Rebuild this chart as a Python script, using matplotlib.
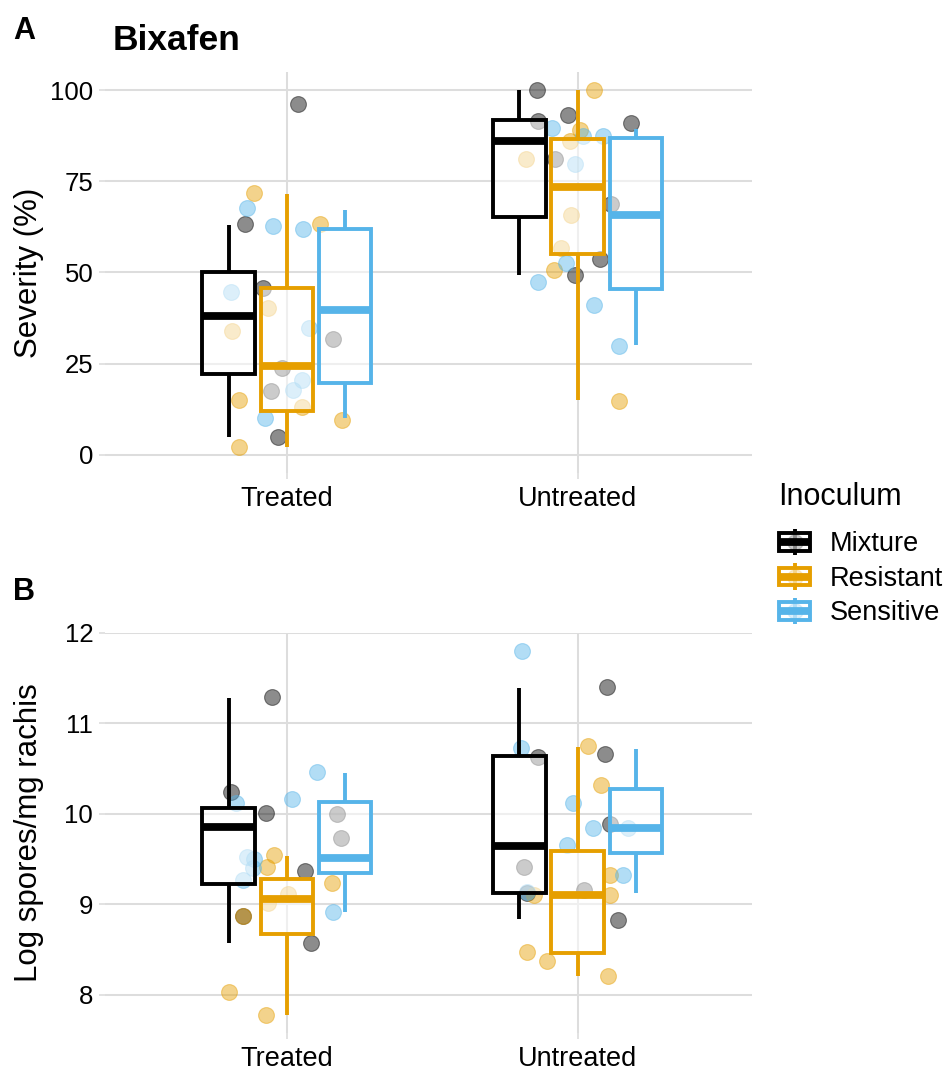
import matplotlib
matplotlib.use('Agg')
import matplotlib.pyplot as plt
from matplotlib.patches import Rectangle
from matplotlib.lines import Line2D
from matplotlib.legend_handler import HandlerBase

plt.rcParams['font.family'] = ['Liberation Sans', 'DejaVu Sans']

treatments = ['Treated', 'Untreated']
inocula = ['Mixture', 'Resistant', 'Sensitive']
colors = ['#000000', '#E69F00', '#56B4E9']

# box stats: [whislo, q1, median, q3, whishi], order Mixture/Resistant/Sensitive
sev_box_treated = [[4.8, 22.2, 38.2, 50.1, 62.9], [2.0, 11.9, 24.4, 45.7, 71.6], [10.2, 19.7, 39.6, 62.0, 67.2]]
sev_box_untreated = [[49.2, 65.2, 86.0, 91.8, 100], [14.9, 55.1, 73.5, 86.6, 100], [30.1, 45.6, 65.9, 86.9, 89.4]]
spo_box_treated = [[8.57, 9.23, 9.86, 10.07, 11.28], [7.78, 8.67, 9.06, 9.28, 9.54], [8.92, 9.35, 9.51, 10.13, 10.45]]
spo_box_untreated = [[8.84, 9.13, 9.65, 10.64, 11.39], [8.21, 8.46, 9.10, 9.59, 10.74], [9.13, 9.57, 9.84, 10.28, 10.72]]

# raw observations
sev_treated_mix = [96.2, 63.3, 45.7, 23.8, 17.6, 5.0, 31.7]
sev_treated_res = [71.8, 63.3, 40.3, 33.9, 15.1, 2.0, 13.0, 9.6]
sev_treated_sen = [67.7, 62.7, 62.0, 44.6, 34.8, 20.6, 17.7, 10.1]
sev_untreated_mix = [100, 93.1, 91.5, 90.9, 81.2, 68.8, 53.7, 49.2]
sev_untreated_res = [100, 89.2, 86.0, 81.2, 65.9, 56.7, 50.6, 14.8]
sev_untreated_sen = [89.7, 87.4, 87.4, 79.8, 52.6, 47.3, 41.0, 29.9]

spo_treated_mix = [11.29, 10.24, 10.01, 9.37, 8.87, 8.57, 10.0, 9.74]
spo_treated_res = [9.55, 9.41, 9.12, 9.02, 9.24, 8.87, 8.03, 7.78]
spo_treated_sen = [10.46, 10.17, 10.12, 9.52, 9.50, 9.40, 9.27, 8.92]
spo_untreated_mix = [11.40, 10.66, 10.63, 9.89, 9.41, 9.16, 8.83, 9.13]
spo_untreated_res = [10.75, 10.32, 9.33, 9.10, 9.10, 8.47, 8.38, 8.21]
spo_untreated_sen = [11.80, 10.73, 10.12, 9.85, 9.84, 9.66, 9.33, 9.14]

# horizontal jitter of each observation (category units), as seen in the picture
jit_sev_treated_mix = [0.039, -0.142, -0.081, -0.018, -0.053, -0.030, 0.159]
jit_sev_treated_res = [-0.112, 0.113, -0.066, -0.187, -0.163, -0.164, 0.053, 0.191]
jit_sev_treated_sen = [-0.138, -0.047, 0.057, -0.190, 0.077, 0.053, 0.020, -0.076]
jit_sev_untreated_mix = [-0.140, -0.032, -0.136, 0.185, -0.079, 0.116, 0.076, -0.010]
jit_sev_untreated_res = [0.058, 0.007, -0.027, -0.176, -0.022, -0.056, -0.082, 0.144]
jit_sev_untreated_sen = [-0.087, 0.018, 0.087, -0.007, -0.039, -0.136, 0.058, 0.142]

jit_spo_treated_mix = [-0.051, -0.190, -0.072, 0.062, -0.150, 0.082, 0.173, 0.188]
jit_spo_treated_res = [-0.045, -0.068, 0.004, -0.064, 0.157, -0.150, -0.198, -0.073]
jit_spo_treated_sen = [0.104, 0.018, -0.173, -0.138, -0.113, -0.116, -0.150, 0.159]
jit_spo_untreated_mix = [0.101, 0.093, -0.136, 0.113, -0.185, 0.022, 0.138, -0.173]
jit_spo_untreated_res = [0.037, 0.081, 0.113, 0.110, -0.148, -0.174, -0.105, 0.104]
jit_spo_untreated_sen = [-0.190, -0.196, -0.014, 0.052, 0.173, -0.035, 0.156, -0.173]

GRID = '#DDDDDD'
BOX_FILL = (1, 1, 1, 0.55)
PT_ALPHA = 0.45


def draw_panel(ax, boxes, points, jitters, ylim, yticks, ylabel):
    for t in range(2):
        xc = t + 1
        for i in range(3):
            c = colors[i]
            xs = [xc + j for j in jitters[t][i]]
            ax.scatter(xs, points[t][i], s=130, color=c, alpha=PT_ALPHA,
                       edgecolors=c, linewidths=0.8, zorder=2)
        for i in range(3):
            c = colors[i]
            lo, q1, med, q3, hi = boxes[t][i]
            st = dict(whislo=lo, q1=q1, med=med, q3=q3, whishi=hi, fliers=[])
            ax.bxp([st], positions=[xc + (i - 1) * 0.2], widths=0.18,
                   patch_artist=True, showcaps=False, showfliers=False,
                   manage_ticks=False, zorder=3,
                   boxprops=dict(facecolor=BOX_FILL, edgecolor=c, linewidth=2.8),
                   whiskerprops=dict(color=c, linewidth=2.8, solid_capstyle='butt'),
                   medianprops=dict(color=c, linewidth=5.6, solid_capstyle='butt'))
    ax.set_xlim(1 - 0.625, 2 + 0.6)
    ax.set_ylim(*ylim)
    ax.set_yticks(yticks)
    ax.set_xticks([1, 2])
    ax.set_xticklabels(treatments)
    for s in ax.spines.values():
        s.set_visible(False)
    ax.set_axisbelow(True)
    ax.grid(True, color=GRID, linewidth=1.45)
    ax.tick_params(axis='x', length=4, width=1.2, color=GRID, pad=5, labelsize=19.5)
    ax.tick_params(axis='y', length=4, width=1.2, color=GRID, pad=4.5, labelsize=18.5)
    ax.set_ylabel(ylabel, fontsize=22.5)
    ax.yaxis.set_label_coords(-0.094, 0.5)


class BoxKey(HandlerBase):
    def create_artists(self, legend, orig_handle, xdescent, ydescent,
                       width, height, fontsize, trans):
        c = orig_handle.get_color()
        x0, y0 = -xdescent, -ydescent
        cx, cy = x0 + width / 2, y0 + height / 2
        pt = Line2D([cx], [cy], marker='o', markersize=11, color=c,
                    alpha=PT_ALPHA, linestyle='none', transform=trans)
        wh = Line2D([cx, cx], [y0, y0 + height], color=c, linewidth=2.8,
                    solid_capstyle='butt', transform=trans)
        box = Rectangle((x0, y0 + 0.17 * height), width, 0.66 * height,
                        facecolor=BOX_FILL, edgecolor=c, linewidth=2.8, transform=trans)
        md = Line2D([x0, x0 + width], [cy, cy], color=c, linewidth=5.6,
                    solid_capstyle='butt', transform=trans)
        return [wh, pt, box, md]


fig = plt.figure(figsize=(9.48, 10.70), dpi=100)
W, H = 948, 1070
axA = fig.add_axes([105 / W, 1 - 473 / H, 647 / W, 401 / H])
axB = fig.add_axes([105 / W, 1 - 1033 / H, 647 / W, 400 / H])

draw_panel(axA, [sev_box_treated, sev_box_untreated],
           [[sev_treated_mix, sev_treated_res, sev_treated_sen],
            [sev_untreated_mix, sev_untreated_res, sev_untreated_sen]],
           [[jit_sev_treated_mix, jit_sev_treated_res, jit_sev_treated_sen],
            [jit_sev_untreated_mix, jit_sev_untreated_res, jit_sev_untreated_sen]],
           (-5, 105), [0, 25, 50, 75, 100], 'Severity (%)')
draw_panel(axB, [spo_box_treated, spo_box_untreated],
           [[spo_treated_mix, spo_treated_res, spo_treated_sen],
            [spo_untreated_mix, spo_untreated_res, spo_untreated_sen]],
           [[jit_spo_treated_mix, jit_spo_treated_res, jit_spo_treated_sen],
            [jit_spo_untreated_mix, jit_spo_untreated_res, jit_spo_untreated_sen]],
           (7.58, 12.0), [8, 9, 10, 11, 12], 'Log spores/mg rachis')

fig.text(113 / W, 1 - 50 / H, 'Bixafen', fontsize=25.5, fontweight='bold', va='baseline')
fig.text(13 / W, 1 - 39 / H, 'A', fontsize=22, fontweight='bold', va='baseline')
fig.text(13 / W, 1 - 600 / H, 'B', fontsize=22, fontweight='bold', va='baseline')

# legend: title as its own text so the gap below it matches
fig.text(778 / W, 1 - 505 / H, 'Inoculum', fontsize=22, va='baseline')
handles = [Line2D([], [], color=c) for c in colors]
fig.legend(handles, inocula, loc='upper left',
           bbox_to_anchor=(779 / W, 1 - 529 / H), frameon=False,
           fontsize=19.5, handlelength=1.15, handleheight=1.12,
           handletextpad=0.72, labelspacing=0.22, borderpad=0, borderaxespad=0,
           handler_map={Line2D: BoxKey()})

fig.savefig('out.png', dpi=100)
